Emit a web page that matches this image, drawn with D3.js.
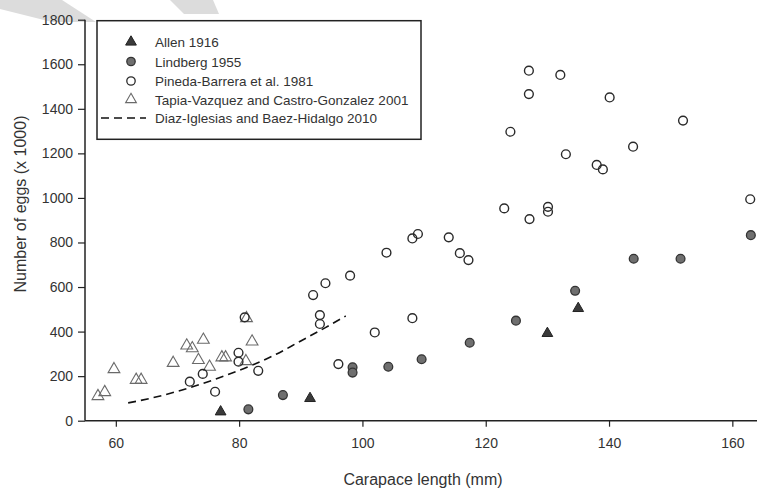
<!DOCTYPE html>
<html><head><meta charset="utf-8">
<script src="https://cdn.jsdelivr.net/npm/d3@7/dist/d3.min.js"></script>
<style>html,body{margin:0;padding:0;background:#fff;}svg{display:block;}</style>
</head><body>
<svg id="chart" width="757" height="489"></svg>
<script>
// ---- data ----
const xTicks = [60, 80, 100, 120, 140, 160];
const yTicks = [0, 200, 400, 600, 800, 1000, 1200, 1400, 1600, 1800];

const allenX = [77, 91.5, 130, 135];
const allenY = [40, 100, 392, 504];

const lindbergX = [81.5, 87.1, 98.4, 98.4, 104.2, 109.6, 117.4, 124.9, 134.5, 144.0, 151.6, 163.0];
const lindbergY = [51, 115, 240, 216, 242, 276, 350, 449, 583, 727, 727, 833];

const pinedaX = [72, 74.1, 76.1, 79.9, 79.9, 83.1, 80.9, 93.1, 93.1, 96.1, 102, 92, 94, 98, 103.9, 108.1, 109, 108.1, 114, 115.8, 117.2, 123, 127.1, 130.1, 130.1, 138, 139, 162.9, 127, 132.1, 127, 140.1, 124, 152, 133, 143.9];
const pinedaY = [175, 210, 130, 305, 265, 224, 464, 474, 434, 254, 396, 564, 617, 651, 754, 818, 838, 460, 823, 752, 721, 953, 905, 960, 938, 1148, 1128, 994, 1571, 1552, 1466, 1451, 1297, 1347, 1196, 1230];

const tapiaX = [57.1, 58.2, 59.7, 63.3, 64.1, 69.3, 71.5, 72.4, 74.2, 73.4, 75.2, 77.2, 77.8, 81.1, 82.1, 81.2];
const tapiaY = [110, 128, 231, 183, 183, 259, 337, 325, 363, 272, 242, 284, 284, 267, 355, 460];

const diazX = [62, 66, 70, 74, 78, 82, 86, 90, 94, 97.3];
const diazY = [80, 103, 132, 166, 205, 248, 298, 358, 418, 470];

const legendLabels = ["Allen 1916", "Lindberg 1955", "Pineda-Barrera et al. 1981",
  "Tapia-Vazquez and Castro-Gonzalez 2001", "Diaz-Iglesias and Baez-Hidalgo 2010"];

const xTitle = "Carapace length (mm)";
const yTitle = "Number of eggs (x 1000)";

// ---- drawing ----
const svg = d3.select("#chart");
const FONT = "'Liberation Sans', Arial, sans-serif";
const ink = "#222";

// light watermark shapes at top
svg.append("polygon").attr("points", "0,0 62,0 96,22 52,22 0,9").attr("fill", "#dcdcdc");
svg.append("polygon").attr("points", "170,0 213,0 219,14 184,14").attr("fill", "#dcdcdc");

const x = d3.scaleLinear().domain([55, 164]).range([85, 757]);
const y = d3.scaleLinear().domain([0, 1800]).range([420.7, 19.7]);

const xAxis = svg.append("g").attr("transform", `translate(0,${y(0)})`)
  .call(d3.axisBottom(x).tickValues(xTicks).tickSize(6).tickPadding(11).tickFormat(d3.format("d")));
const yAxis = svg.append("g").attr("transform", `translate(${x(55)},0)`)
  .call(d3.axisLeft(y).tickValues(yTicks).tickSize(7).tickPadding(5).tickFormat(d3.format("d")));
[xAxis, yAxis].forEach(g => {
  g.select(".domain").attr("stroke", ink).attr("stroke-width", 1.5);
  g.selectAll(".tick line").attr("stroke", ink).attr("stroke-width", 1.2);
  g.selectAll(".tick text").attr("fill", "#333").style("font-family", FONT).style("font-size", "14px");
});
// x domain line should not have outer ticks
xAxis.select(".domain").attr("d", `M${x(55)},0H757`);
yAxis.select(".domain").attr("d", `M0,${y(0)}V${y(1800)}`);

svg.append("text").attr("x", 423).attr("y", 485).attr("text-anchor", "middle")
  .style("font-family", FONT).style("font-size", "16px").attr("fill", "#333").text(xTitle);
svg.append("text").attr("transform", `translate(26,204) rotate(-90)`).attr("text-anchor", "middle")
  .style("font-family", FONT).style("font-size", "16px").attr("fill", "#333").text(yTitle);

const zip = (a, b) => a.map((v, i) => [v, b[i]]);
const tri = d3.symbol().type(d3.symbolTriangle).size(50);

// dashed curve
svg.append("path").datum(zip(diazX, diazY))
  .attr("d", d3.line().x(d => x(d[0])).y(d => y(d[1])).curve(d3.curveMonotoneX))
  .attr("fill", "none").attr("stroke", "#111").attr("stroke-width", 1.6).attr("stroke-dasharray", "8,5");

// Tapia open triangles
svg.append("g").selectAll("path").data(zip(tapiaX, tapiaY)).join("path")
  .attr("d", d3.symbol().type(d3.symbolTriangle).size(60))
  .attr("transform", d => `translate(${x(d[0])},${y(d[1])})`)
  .attr("fill", "#fff").attr("fill-opacity", 0).attr("stroke", "#6a6a6a").attr("stroke-width", 1.1);

// Pineda open circles
svg.append("g").selectAll("circle").data(zip(pinedaX, pinedaY)).join("circle")
  .attr("cx", d => x(d[0])).attr("cy", d => y(d[1])).attr("r", 4.4)
  .attr("fill", "none").attr("stroke", "#2a2a2a").attr("stroke-width", 1.4);

// Lindberg grey filled circles
svg.append("g").selectAll("circle").data(zip(lindbergX, lindbergY)).join("circle")
  .attr("cx", d => x(d[0])).attr("cy", d => y(d[1])).attr("r", 4.4)
  .attr("fill", "#6f6f6f").attr("stroke", "#333").attr("stroke-width", 1.3);

// Allen dark triangles
svg.append("g").selectAll("path").data(zip(allenX, allenY)).join("path")
  .attr("d", tri)
  .attr("transform", d => `translate(${x(d[0])},${y(d[1])})`)
  .attr("fill", "#3a3a3a").attr("stroke", "#222").attr("stroke-width", 1);

// legend
const lg = svg.append("g");
lg.append("rect").attr("x", 97).attr("y", 20.7).attr("width", 324).attr("height", 118.6)
  .attr("fill", "#fff").attr("stroke", ink).attr("stroke-width", 1.5);
const rowY = [42, 61.5, 81, 99.5, 118];
const sx = 131;
lg.append("path").attr("d", tri).attr("transform", `translate(${sx},${rowY[0]})`)
  .attr("fill", "#3a3a3a").attr("stroke", "#222");
lg.append("circle").attr("cx", sx).attr("cy", rowY[1]).attr("r", 4.2)
  .attr("fill", "#6f6f6f").attr("stroke", "#333").attr("stroke-width", 1.3);
lg.append("circle").attr("cx", sx).attr("cy", rowY[2]).attr("r", 4.2)
  .attr("fill", "none").attr("stroke", "#2a2a2a").attr("stroke-width", 1.3);
lg.append("path").attr("d", d3.symbol().type(d3.symbolTriangle).size(50)).attr("transform", `translate(${sx},${rowY[3]})`)
  .attr("fill", "none").attr("stroke", "#6a6a6a").attr("stroke-width", 1.1);
lg.append("line").attr("x1", 101).attr("x2", 146).attr("y1", rowY[4]).attr("y2", rowY[4])
  .attr("stroke", "#111").attr("stroke-width", 1.6).attr("stroke-dasharray", "8,5");
lg.selectAll("text").data(legendLabels).join("text")
  .attr("x", 155).attr("y", (d, i) => rowY[i] + 5)
  .style("font-family", FONT).style("font-size", "13.5px").attr("fill", "#333").text(d => d);
</script>
</body></html>
